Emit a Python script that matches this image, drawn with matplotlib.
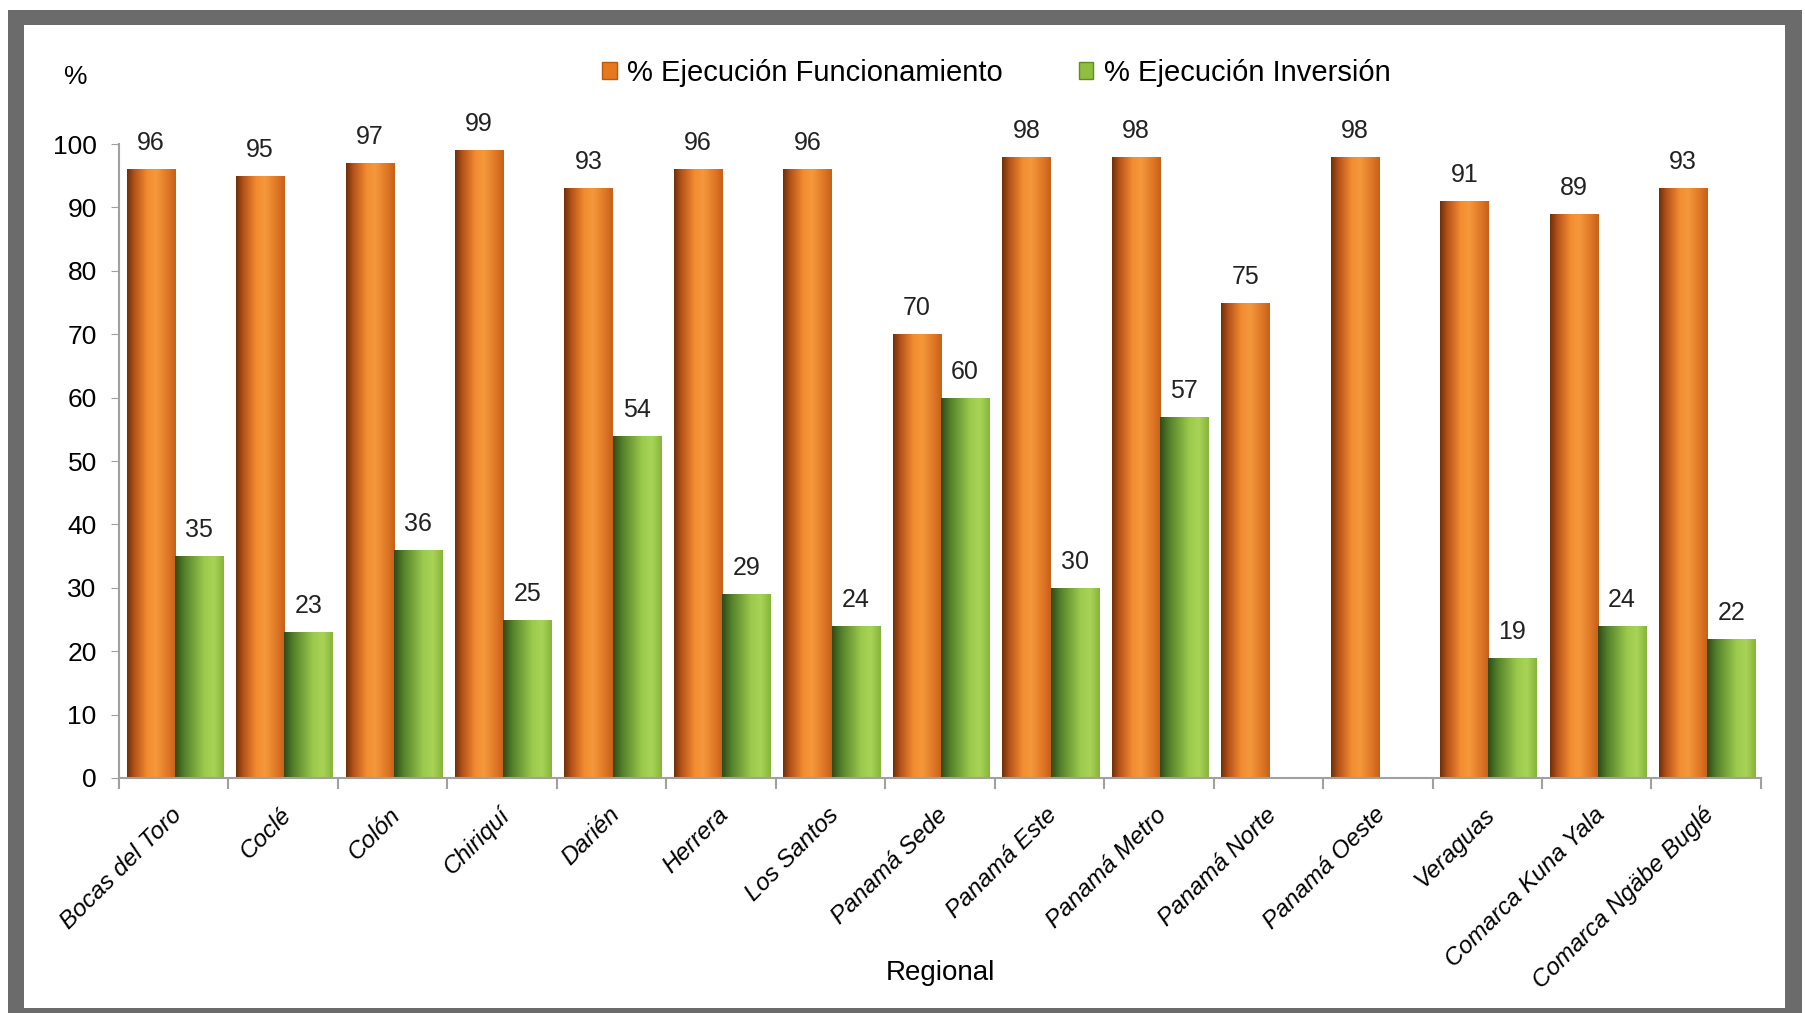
import numpy as np
import matplotlib
matplotlib.use("Agg")
import matplotlib.pyplot as plt
from matplotlib.colors import LinearSegmentedColormap
from matplotlib.patches import Rectangle, Patch

regiones = ["Bocas del Toro", "Coclé", "Colón", "Chiriquí", "Darién", "Herrera",
            "Los Santos", "Panamá Sede", "Panamá Este", "Panamá Metro",
            "Panamá Norte", "Panamá Oeste", "Veraguas", "Comarca Kuna Yala",
            "Comarca Ngäbe Buglé"]
funcionamiento = [96, 95, 97, 99, 93, 96, 96, 70, 98, 98, 75, 98, 91, 89, 93]
inversion = [35, 23, 36, 25, 54, 29, 24, 60, 30, 57, None, None, 19, 24, 22]
yticks = list(range(0, 101, 10))

FONT = ["Liberation Sans", "DejaVu Sans"]

cmap_orange = LinearSegmentedColormap.from_list(
    "naranja", [(0.0, "#6e3008"), (0.15, "#b4521a"), (0.42, "#f38c30"),
                (0.6, "#f4983c"), (0.85, "#dd7524"), (1.0, "#c4601a")])
cmap_green = LinearSegmentedColormap.from_list(
    "verde", [(0.0, "#2f4a18"), (0.2, "#55822a"), (0.6, "#9cca4c"),
              (0.8, "#a8d356"), (1.0, "#86b43c")])
grad = np.linspace(0, 1, 256).reshape(1, -1)

fig = plt.figure(figsize=(18.05, 10.13), dpi=100)

# marco gris con sombra
fig.patches.append(Rectangle((8 / 1805, 0), 1794 / 1805, 1 - 10 / 1013,
                             transform=fig.transFigure, facecolor="#6b6b6b",
                             edgecolor="none", zorder=-2))
fig.patches.append(Rectangle((24 / 1805, 5 / 1013), 1761 / 1805, 983 / 1013,
                             transform=fig.transFigure, facecolor="white",
                             edgecolor="none", zorder=-1))

ax = fig.add_axes([0.0659, 0.232, 0.9097, 0.6258])
ax.set_facecolor("none")

x = np.arange(len(regiones))
w = 0.44

def gradient_bars(xpos, vals, cmap):
    for xi, v in zip(xpos, vals):
        if v is None:
            continue
        bar = ax.bar(xi, v, width=w, color="none", edgecolor="none")[0]
        im = ax.imshow(grad, extent=[xi - w / 2, xi + w / 2, 0, v],
                       aspect="auto", cmap=cmap, zorder=2)
        im.set_clip_path(bar)
        ax.text(xi, v + 2.2, f"{v}", ha="center", va="bottom",
                fontsize=18, color="#222222", family=FONT)

gradient_bars(x - w / 2 + 0.01, funcionamiento, cmap_orange)
gradient_bars(x + w / 2 + 0.01, inversion, cmap_green)

ax.set_xlim(-0.5, len(regiones) - 0.5)
ax.set_ylim(0, 100)

for s in ["top", "right"]:
    ax.spines[s].set_visible(False)
for s in ["left", "bottom"]:
    ax.spines[s].set_color("#a0a0a0")
    ax.spines[s].set_linewidth(1.5)

ax.set_yticks(yticks)
ax.set_yticklabels([str(t) for t in yticks], fontsize=19, family=FONT)
ax.tick_params(axis="y", length=6, color="#a0a0a0", pad=10)

ax.set_xticks(x + 0.04)
ax.set_xticklabels(regiones, rotation=45, ha="right", va="center",
                   rotation_mode="anchor", fontsize=17.5, style="italic",
                   family=FONT)
ax.tick_params(axis="x", which="major", length=0, pad=24)
ax.set_xticks(np.arange(-0.5, len(regiones)), minor=True)
ax.tick_params(axis="x", which="minor", length=8, color="#a0a0a0", width=1.5)

fig.text(940 / 1805, 1 - 973 / 1013, "Regional", ha="center", va="center",
         fontsize=20, family=FONT)
fig.text(76 / 1805, 1 - 77 / 1013, "%", ha="center", va="center",
         fontsize=19, family=FONT)

handles = [Patch(facecolor="#e8781e", edgecolor="#b85a10"),
           Patch(facecolor="#8fbf3e", edgecolor="#5f8a28")]
fig.legend(handles, ["% Ejecución Funcionamiento", "% Ejecución Inversión"],
           loc="center", bbox_to_anchor=(0.552, 0.928), ncol=2, frameon=False,
           handlelength=0.5, handleheight=0.5, handletextpad=0.35,
           columnspacing=2.6, prop={"family": FONT, "size": 21})

fig.savefig("out.png", dpi=100)
